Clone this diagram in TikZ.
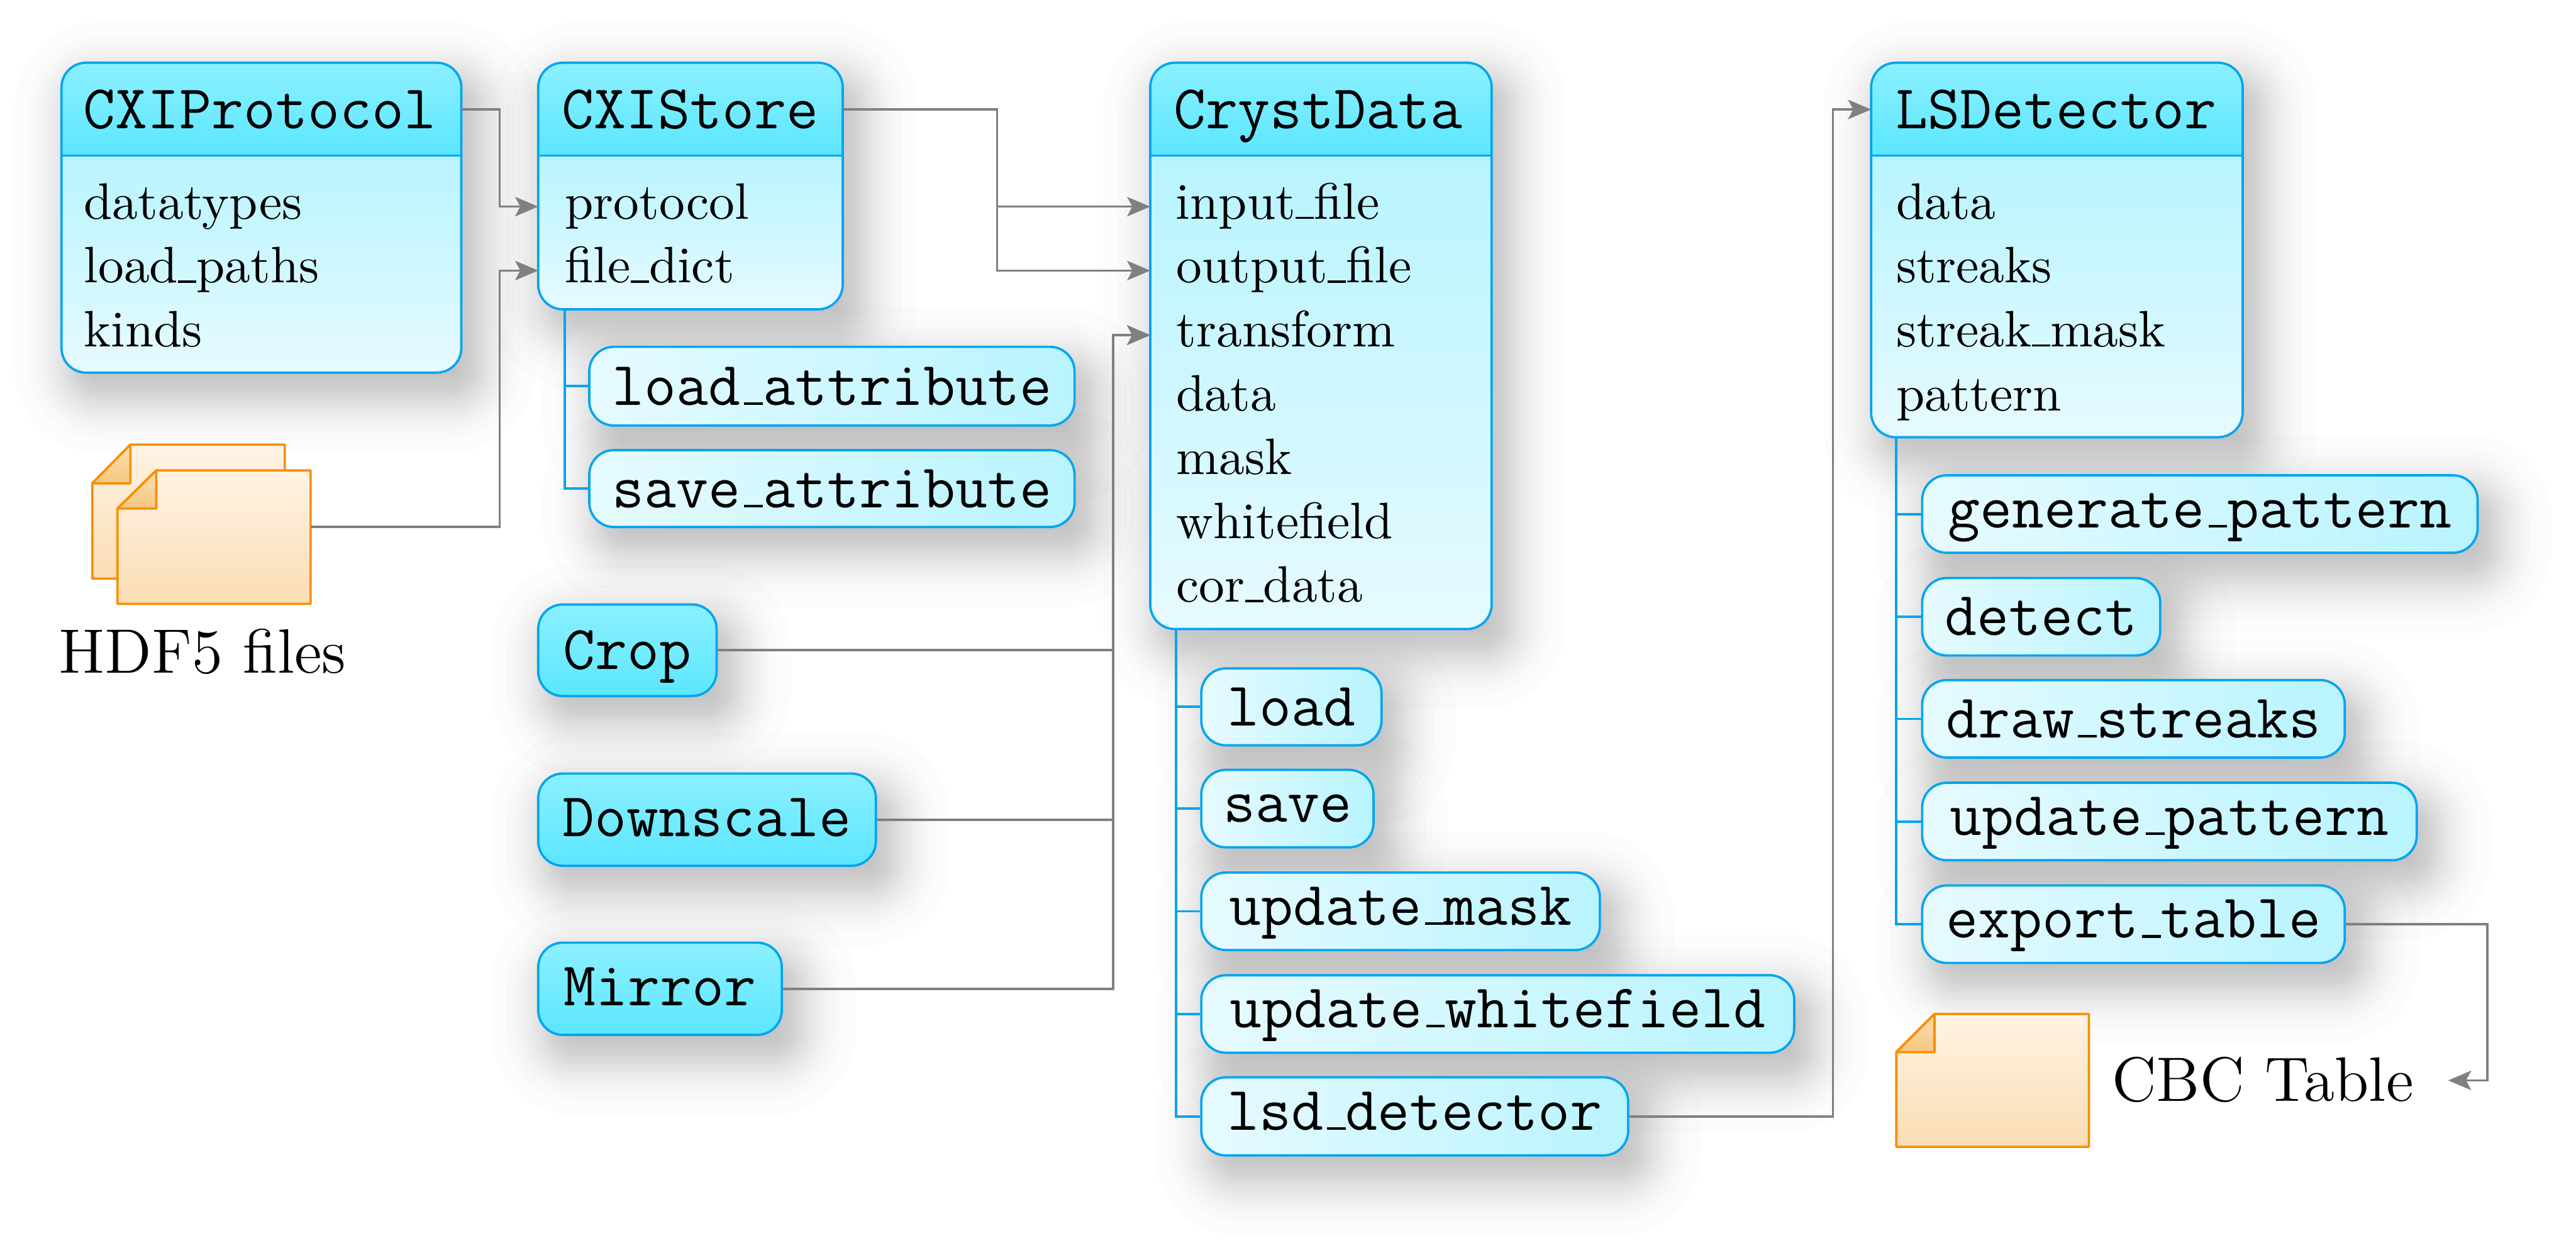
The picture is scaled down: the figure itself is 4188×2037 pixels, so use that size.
\documentclass[tikz,border=0pt]{standalone}
\usetikzlibrary{arrows.meta}
\pgfdeclarelayer{shadowlayer}
\pgfsetlayers{shadowlayer,main}
\definecolor{edgeblue}{HTML}{00A5EE}
\definecolor{hdrT}{HTML}{8CF0FF}
\definecolor{hdrB}{HTML}{5BE6FF}
\definecolor{bodyT}{HTML}{B8F4FF}
\definecolor{bodyB}{HTML}{E6FAFF}
\definecolor{docE}{HTML}{F79000}
\definecolor{docT}{HTML}{FFF3E4}
\definecolor{docB}{HTML}{FADDB4}
\definecolor{foldT}{HTML}{FBDFB4}
\definecolor{foldB}{HTML}{F6C680}
\definecolor{conn}{HTML}{808080}
\newcommand{\ttsize}{\fontsize{12.15}{14}\selectfont\ttfamily}
\newcommand{\capsize}{\fontsize{12.25}{14}\selectfont}
\newcommand{\ust}{\leavevmode\kern.06em\rule{.3em}{.045em}}
\newcommand{\usr}{\leavevmode\rule{.36em}{.045em}}
\tikzset{
  x=0.12pt,y=-0.12pt,
  boxline/.style={draw=edgeblue,line width=0.45pt},
  method/.style={boxline,rounded corners=4.8pt,left color=bodyB,right color=bodyT,
     inner sep=0pt,font=\ttsize},
  methodlow/.style={method,text height=7.3pt,text depth=2pt},
  action/.style={boxline,rounded corners=4.8pt,top color=hdrT,bottom color=hdrB,
     inner sep=0pt,font=\ttsize,text height=7.3pt,text depth=0.85pt},
  frame/.style={inner sep=0pt,outer sep=0pt},
  title/.style={anchor=base west,inner sep=0pt,font=\ttsize},
  rowtext/.style={anchor=base west,inner sep=0pt},
  caption/.style={anchor=base west,inner sep=0pt,font=\capsize},
  docline/.style={draw=docE,line width=0.45pt,line join=round},
  link/.style={draw=conn,line width=0.45pt},
  arrow/.style={link,-{Stealth[length=4.5pt,width=3.8pt,inset=1pt]}},
  branch/.style={draw=edgeblue,line width=0.45pt},
}
\newcommand{\softshadow}[4]{%
  \begin{pgfonlayer}{shadowlayer}
  \foreach \z in {2.05,1.55,1.32,1.13,.99,.86,.74,.64,.53,.44,.34,.25,.16,.08,0,-.08,-.16,-.25,-.34,-.44,-.53,-.64,-.74,-.86,-.99,-1.13,-1.32,-1.55,-2.05}{%
    \pgfmathsetmacro{\d}{48*\z}%
    \pgfmathsetmacro{\rr}{max(40+\d,5)*0.12}%
    \fill[black,fill opacity=0.0115,rounded corners=\rr pt]
      ({#1+22-\d},{#2+32-\d}) rectangle ({#3+22+\d},{#4+32+\d});
  }
  \end{pgfonlayer}}
\newcommand{\classbox}[6]{% name x1 y1 x2 yline y2
  \softshadow{#2}{#3}{#4}{#6}
  \begin{scope}
    \clip[rounded corners=4.8pt] (#2,#3) rectangle (#4,#6);
    \shade[top color=hdrT,bottom color=hdrB] (#2,#3) rectangle (#4,#5);
    \shade[top color=bodyT,bottom color=bodyB] (#2,#5) rectangle (#4,#6);
  \end{scope}
  \draw[boxline] (#2,#5) -- (#4,#5);
  \node[frame,boxline,rounded corners=4.8pt,anchor=north west,
     minimum width={(#4-#2)*0.12pt},minimum height={(#6-#3)*0.12pt}] (#1) at (#2,#3) {};
}
\newcommand{\methodbox}[7][method]{% style name x1 y1 x2 y2 text
  \softshadow{#3}{#4}{#5}{#6}
  \node[#1,minimum width={(#5-#3)*0.12pt},minimum height={(#6-#4)*0.12pt}] (#2)
     at ({(#3+#5)/2},{(#4+#6)/2}) {#7};
}
\newcommand{\docshape}[7]{% name x1 y1 x2 y2 foldx foldy
  \node[frame,anchor=north west,minimum width={(#4-#2)*0.12pt},minimum height={(#5-#3)*0.12pt}] (#1) at (#2,#3) {};
  \shade[docline,top color=docT,bottom color=docB] (#6,#3) -- (#4,#3) -- (#4,#5) -- (#2,#5) -- (#2,#7) -- cycle;
  \shade[docline,top color=foldT,bottom color=foldB] (#6,#3) -- (#6,#7) -- (#2,#7) -- cycle;
}
\begin{document}
\begin{tikzpicture}
\useasboundingbox (0,0) rectangle (4188,2037);

% files
\docshape{hdfa}{150}{723}{463}{941}{212}{786}
\docshape{hdfb}{191}{765}{505}{982}{254}{827}
\node[caption] (hdflabel) at (94,1095) {HDF5 files};
\docshape{cbcdoc}{3083}{1649}{3396}{1865}{3145}{1711}
\node[caption] (cbclabel) at (3432,1791) {CBC Table};

% CXIProtocol
\classbox{cxip}{100}{102}{750}{253}{606}
\node[title] (cxipt) at (134,209) {CXIProtocol};
\node[rowtext] (cxip1) at (135,356) {datatypes};
\node[rowtext] (cxip2) at (135,459.9) {load\usr paths};
\node[rowtext] (cxip3) at (135,563.8) {kinds};

% CXIStore
\classbox{cxis}{875}{102}{1370}{253}{503}
\node[title] (cxist) at (912,209) {CXIStore};
\node[rowtext] (cxis1) at (917,356) {protocol};
\node[rowtext] (cxis2) at (917,459.9) {file\usr dict};
\methodbox{loadattr}{958}{564}{1747}{692}{load\ust attribute}
\methodbox{saveattr}{958}{732}{1747}{857}{save\ust attribute}

% actions
\methodbox[action,text depth=0pt]{crop}{875}{983}{1165}{1132}{Crop}
\methodbox[action]{downscale}{875}{1258}{1424}{1408}{Downscale}
\methodbox[action]{mirror}{875}{1533}{1271}{1683}{Mirror}

% CrystData
\classbox{cryst}{1870}{102}{2425}{253}{1023}
\node[title] (crystt) at (1907,209) {CrystData};
\node[rowtext] (cryst1) at (1910,356) {input\usr file};
\node[rowtext] (cryst2) at (1911,459.9) {output\usr file};
\node[rowtext] (cryst3) at (1911,563.8) {transform};
\node[rowtext] (cryst4) at (1911,667.7) {data};
\node[rowtext] (cryst5) at (1911,771.6) {mask};
\node[rowtext] (cryst6) at (1911,875.5) {whitefield};
\node[rowtext] (cryst7) at (1911,979.4) {cor\usr data};
\methodbox{load}{1953}{1087}{2246}{1212}{load}
\methodbox{save}{1953}{1252}{2233}{1378}{save}
\methodbox[methodlow]{updmask}{1953}{1419}{2601}{1545}{update\ust mask}
\methodbox[methodlow]{updwhite}{1953}{1586}{2917}{1712}{update\ust whitefield}
\methodbox[methodlow]{lsd}{1953}{1752}{2647}{1879}{lsd\ust detector}

% LSDetector
\classbox{lsdd}{3042}{102}{3646}{253}{711}
\node[title] (lsddt) at (3080,209) {LSDetector};
\node[rowtext] (lsdd1) at (3081,356) {data};
\node[rowtext] (lsdd2) at (3081,459.9) {streaks};
\node[rowtext] (lsdd3) at (3081,563.8) {streak\usr mask};
\node[rowtext] (lsdd4) at (3081,667.7) {pattern};
\methodbox[methodlow]{genpat}{3125}{773}{4028}{899}{generate\ust pattern}
\methodbox{detect}{3125}{940}{3512}{1066}{detect}
\methodbox{draw}{3125}{1106}{3812}{1232}{draw\ust streaks}
\methodbox[methodlow]{updpat}{3125}{1273}{3929}{1399}{update\ust pattern}
\methodbox[methodlow]{export}{3125}{1440}{3812}{1566}{export\ust table}

% connector ends
\coordinate (cxipout) at (750,178);
\coordinate (cxisin1) at (875,336);
\coordinate (cxisin2) at (875,440);
\coordinate (hdfout) at (505,857);
\coordinate (cxisout) at (1370,178);
\coordinate (crystin1) at (1870,336);
\coordinate (crystin2) at (1870,440);
\coordinate (crystin3) at (1870,545);
\coordinate (lsdin) at (3042,178);
\coordinate (cbcin) at (3980,1757);
\coordinate (b1) at (918,503);
\coordinate (b2) at (1912,1023);
\coordinate (b3) at (3083,711);

% branches
\draw[branch] (b1) |- (loadattr.west);
\draw[branch] (b1) |- (saveattr.west);
\foreach \m in {load,save,updmask,updwhite,lsd}
  \draw[branch] (b2) |- (\m.west);
\foreach \m in {genpat,detect,draw,updpat,export}
  \draw[branch] (b3) |- (\m.west);

% connectors
\draw[arrow] (cxipout) -- ++(62.5,0) |- (cxisin1);
\draw[arrow] (hdfout) -- ++(307.5,0) |- (cxisin2);
\draw[arrow] (cxisout) -- ++(251,0) |- (crystin1);
\draw[arrow] (cxisout) -- ++(251,0) |- (crystin2);
\draw[arrow] (crop.east) -- ++(643,0) |- (crystin3);
\draw[arrow] (downscale.east) -- ++(384,0) |- (crystin3);
\draw[arrow] (mirror.east) -- ++(537,0) |- (crystin3);
\draw[arrow] (lsd.east) -- ++(331,0) |- (lsdin);
\draw[arrow] (export.east) -- ++(230,0) |- (cbcin);
\end{tikzpicture}
\end{document}
